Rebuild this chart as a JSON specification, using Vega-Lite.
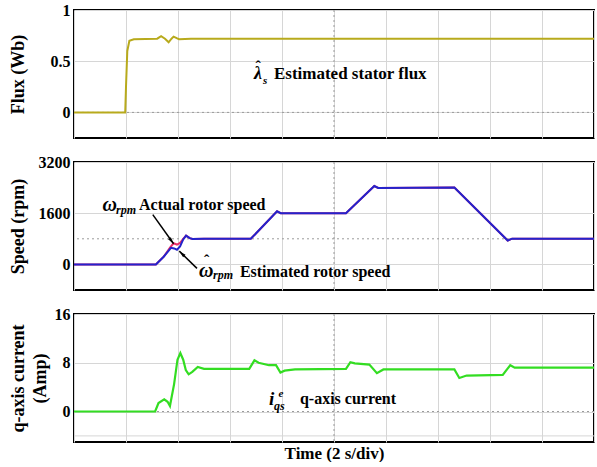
{
  "$schema": "https://vega.github.io/schema/vega-lite/v6.json",
  "background": "white",
  "padding": {"left": 8, "top": 1, "right": 3, "bottom": 0},
  "spacing": 13,
  "config": {
    "font": "Liberation Serif",
    "view": {"stroke": "black", "strokeWidth": 2},
    "axis": {
      "labelFont": "Liberation Serif", "labelFontWeight": "bold", "labelFontSize": 16, "labelColor": "black",
      "titleFont": "Liberation Serif", "titleFontWeight": "bold", "titleFontSize": 18, "titleColor": "black",
      "gridColor": "#d6d6d6", "gridWidth": 1, "ticks": false, "domain": false, "labelOverlap": false, "labelPadding": 4, "grid": true
    },
    "text": {"font": "Liberation Serif", "color": "black", "baseline": "middle", "align": "left"}
  },
  "vconcat": [
    {
      "width": 520, "height": 128,
      "layer": [
        {
          "data": {"values": [{"t": 0, "v": 0.72}, {"t": 20, "v": 0.72}]},
          "mark": {"type": "line", "opacity": 0},
          "encoding": {
            "x": {"field": "t", "type": "quantitative", "scale": {"domain": [0, 20], "nice": false},
                  "axis": {"values": [0,2,4,6,8,10,12,14,16,18,20], "labels": false, "title": null}},
            "y": {"field": "v", "type": "quantitative", "scale": {"domain": [-0.25, 1], "nice": false},
                  "axis": {"values": [0, 0.25, 0.5, 0.75, 1], "format": "~g", "labelExpr": "datum.value == 0 || datum.value == 0.5 || datum.value == 1 ? datum.label : ''",
                           "title": "Flux (Wb)", "titleX": -65, "titleBaseline": "top"}}
          }
        },
        {
          "data": {"values": [{"t": 10}]},
          "mark": {"type": "rule", "color": "#9a9a9a", "strokeDash": [2, 3]},
          "encoding": {"x": {"field": "t", "type": "quantitative"}}
        },
        {
          "data": {"values": [{"v": 0}]},
          "mark": {"type": "rule", "color": "#9a9a9a", "strokeDash": [2, 3]},
          "encoding": {"y": {"field": "v", "type": "quantitative"}}
        },
        {
          "data": {"values": [
            {"t": 0, "v": 0}, {"t": 1.97, "v": 0}, {"t": 2.0, "v": 0.25}, {"t": 2.05, "v": 0.6}, {"t": 2.13, "v": 0.7},
            {"t": 2.3, "v": 0.715}, {"t": 3.2, "v": 0.72}, {"t": 3.35, "v": 0.745}, {"t": 3.5, "v": 0.72}, {"t": 3.64, "v": 0.685},
            {"t": 3.75, "v": 0.72}, {"t": 3.83, "v": 0.74}, {"t": 3.95, "v": 0.725}, {"t": 4.04, "v": 0.715}, {"t": 4.5, "v": 0.72},
            {"t": 20, "v": 0.72}
          ]},
          "mark": {"type": "line", "color": "#b8aa1c", "strokeWidth": 2},
          "encoding": {"x": {"field": "t", "type": "quantitative"}, "y": {"field": "v", "type": "quantitative"}}
        },
        {
          "data": {"values": [{"t": 6.92, "v": 0.373, "s": "λ"}]},
          "mark": {"type": "text", "fontSize": 18, "fontStyle": "italic", "fontWeight": "bold"},
          "encoding": {"x": {"field": "t", "type": "quantitative"}, "y": {"field": "v", "type": "quantitative"}, "text": {"field": "s"}}
        },
        {
          "data": {"values": [{"t": 7.08, "v": 0.39, "s": "ˆ"}]},
          "mark": {"type": "text", "fontSize": 16, "fontWeight": "bold", "align": "center", "baseline": "alphabetic"},
          "encoding": {"x": {"field": "t", "type": "quantitative"}, "y": {"field": "v", "type": "quantitative"}, "text": {"field": "s"}}
        },
        {
          "data": {"values": [{"t": 7.27, "v": 0.31, "s": "s"}]},
          "mark": {"type": "text", "fontSize": 11, "fontStyle": "italic", "fontWeight": "bold"},
          "encoding": {"x": {"field": "t", "type": "quantitative"}, "y": {"field": "v", "type": "quantitative"}, "text": {"field": "s"}}
        },
        {
          "data": {"values": [{"t": 7.69, "v": 0.373, "s": "Estimated stator flux"}]},
          "mark": {"type": "text", "fontSize": 17, "fontWeight": "bold"},
          "encoding": {"x": {"field": "t", "type": "quantitative"}, "y": {"field": "v", "type": "quantitative"}, "text": {"field": "s"}}
        }
      ]
    },
    {
      "width": 520, "height": 128,
      "layer": [
        {
          "data": {"values": [{"t": 0, "v": 800}, {"t": 20, "v": 800}]},
          "mark": {"type": "line", "opacity": 0},
          "encoding": {
            "x": {"field": "t", "type": "quantitative", "scale": {"domain": [0, 20], "nice": false},
                  "axis": {"values": [0,2,4,6,8,10,12,14,16,18,20], "labels": false, "title": null}},
            "y": {"field": "v", "type": "quantitative", "scale": {"domain": [-800, 3200], "nice": false},
                  "axis": {"values": [0, 800, 1600, 2400, 3200], "labelExpr": "datum.value == 0 || datum.value == 1600 || datum.value == 3200 ? datum.value : ''",
                           "title": "Speed (rpm)", "titleX": -65, "titleBaseline": "top"}}
          }
        },
        {
          "data": {"values": [{"t": 10}]},
          "mark": {"type": "rule", "color": "#9a9a9a", "strokeDash": [2, 3]},
          "encoding": {"x": {"field": "t", "type": "quantitative"}}
        },
        {
          "data": {"values": [{"v": 800}]},
          "mark": {"type": "rule", "color": "#9a9a9a", "strokeDash": [2, 3]},
          "encoding": {"y": {"field": "v", "type": "quantitative"}}
        },
        {
          "data": {"values": [
            {"t": 0, "v": 0}, {"t": 3.15, "v": 0}, {"t": 3.45, "v": 240}, {"t": 3.7, "v": 530}, {"t": 3.83, "v": 660},
            {"t": 3.96, "v": 620}, {"t": 4.08, "v": 670}, {"t": 4.2, "v": 800}, {"t": 4.31, "v": 900}, {"t": 4.45, "v": 820},
            {"t": 4.56, "v": 795}, {"t": 5, "v": 800}, {"t": 6.8, "v": 800}, {"t": 7.81, "v": 1660}, {"t": 7.95, "v": 1600},
            {"t": 10.46, "v": 1600}, {"t": 11.55, "v": 2450}, {"t": 11.7, "v": 2390}, {"t": 14.63, "v": 2400},
            {"t": 16.68, "v": 745}, {"t": 16.85, "v": 805}, {"t": 20, "v": 805}
          ]},
          "mark": {"type": "line", "color": "#e8306a", "strokeWidth": 2},
          "encoding": {"x": {"field": "t", "type": "quantitative"}, "y": {"field": "v", "type": "quantitative"}}
        },
        {
          "data": {"values": [
            {"t": 0, "v": 0}, {"t": 3.15, "v": 0}, {"t": 3.45, "v": 240}, {"t": 3.73, "v": 520}, {"t": 3.85, "v": 500},
            {"t": 3.96, "v": 460}, {"t": 4.08, "v": 560}, {"t": 4.2, "v": 780}, {"t": 4.31, "v": 900}, {"t": 4.45, "v": 820},
            {"t": 4.56, "v": 795}, {"t": 5, "v": 800}, {"t": 6.8, "v": 800}, {"t": 7.81, "v": 1660}, {"t": 7.95, "v": 1600},
            {"t": 10.46, "v": 1600}, {"t": 11.55, "v": 2450}, {"t": 11.7, "v": 2390}, {"t": 14.63, "v": 2400},
            {"t": 16.68, "v": 745}, {"t": 16.85, "v": 805}, {"t": 20, "v": 805}
          ]},
          "mark": {"type": "line", "color": "#2323cc", "strokeWidth": 2},
          "encoding": {"x": {"field": "t", "type": "quantitative"}, "y": {"field": "v", "type": "quantitative"}}
        },
        {
          "data": {"values": [{"t": 3.03, "v": 1556, "t2": 3.83, "v2": 644}, {"t": 4.73, "v": -125, "t2": 4.05, "v2": 414}]},
          "mark": {"type": "rule", "color": "black", "strokeWidth": 1.5},
          "encoding": {"x": {"field": "t", "type": "quantitative"}, "y": {"field": "v", "type": "quantitative"},
                       "x2": {"field": "t2"}, "y2": {"field": "v2"}}
        },
        {
          "data": {"values": [{"t": 3.83, "v": 644}]},
          "mark": {"type": "point", "shape": "M0,0L-0.45,1.8L0.45,1.8Z", "filled": true, "color": "black", "opacity": 1, "size": 60, "angle": 144},
          "encoding": {"x": {"field": "t", "type": "quantitative"}, "y": {"field": "v", "type": "quantitative"}}
        },
        {
          "data": {"values": [{"t": 4.05, "v": 414}]},
          "mark": {"type": "point", "shape": "M0,0L-0.45,1.8L0.45,1.8Z", "filled": true, "color": "black", "opacity": 1, "size": 60, "angle": 314},
          "encoding": {"x": {"field": "t", "type": "quantitative"}, "y": {"field": "v", "type": "quantitative"}}
        },
        {
          "data": {"values": [{"t": 1.1, "v": 1868, "s": "ω"}, {"t": 4.81, "v": -200, "s": "ω"}]},
          "mark": {"type": "text", "fontSize": 20, "fontStyle": "italic", "fontWeight": "bold"},
          "encoding": {"x": {"field": "t", "type": "quantitative"}, "y": {"field": "v", "type": "quantitative"}, "text": {"field": "s"}}
        },
        {
          "data": {"values": [{"t": 5.1, "v": -60, "s": "ˆ"}]},
          "mark": {"type": "text", "fontSize": 16, "fontWeight": "bold", "align": "center", "baseline": "alphabetic"},
          "encoding": {"x": {"field": "t", "type": "quantitative"}, "y": {"field": "v", "type": "quantitative"}, "text": {"field": "s"}}
        },
        {
          "data": {"values": [{"t": 1.62, "v": 1712, "s": "rpm"}, {"t": 5.35, "v": -340, "s": "rpm"}]},
          "mark": {"type": "text", "fontSize": 12, "fontStyle": "italic", "fontWeight": "bold"},
          "encoding": {"x": {"field": "t", "type": "quantitative"}, "y": {"field": "v", "type": "quantitative"}, "text": {"field": "s"}}
        },
        {
          "data": {"values": [{"t": 2.5, "v": 1868, "s": "Actual rotor speed"}, {"t": 6.38, "v": -230, "s": "Estimated rotor speed"}]},
          "mark": {"type": "text", "fontSize": 16, "fontWeight": "bold"},
          "encoding": {"x": {"field": "t", "type": "quantitative"}, "y": {"field": "v", "type": "quantitative"}, "text": {"field": "s"}}
        }
      ]
    },
    {
      "width": 520, "height": 128,
      "layer": [
        {
          "data": {"values": [{"t": 0, "v": 7}, {"t": 20, "v": 7}]},
          "mark": {"type": "line", "opacity": 0},
          "encoding": {
            "x": {"field": "t", "type": "quantitative", "scale": {"domain": [0, 20], "nice": false},
                  "axis": {"values": [0,2,4,6,8,10,12,14,16,18,20], "labels": false, "title": "Time (2 s/div)", "titleFontSize": 17, "titlePadding": 3}},
            "y": {"field": "v", "type": "quantitative", "scale": {"domain": [-5, 16], "nice": false},
                  "axis": {"values": [0, 4, 8, 12, 16], "labelExpr": "datum.value == 0 || datum.value == 8 || datum.value == 16 ? datum.value : ''",
                           "title": ["q-axis current", "(Amp)"], "titleX": -65, "titleBaseline": "top", "titleLineHeight": 22}}
          }
        },
        {
          "data": {"values": [{"v": -4}]},
          "mark": {"type": "rule", "color": "#d6d6d6", "strokeWidth": 1},
          "encoding": {"y": {"field": "v", "type": "quantitative"}}
        },
        {
          "data": {"values": [{"t": 10}]},
          "mark": {"type": "rule", "color": "#9a9a9a", "strokeDash": [2, 3]},
          "encoding": {"x": {"field": "t", "type": "quantitative"}}
        },
        {
          "data": {"values": [{"v": 0}]},
          "mark": {"type": "rule", "color": "#9a9a9a", "strokeDash": [2, 3]},
          "encoding": {"y": {"field": "v", "type": "quantitative"}}
        },
        {
          "data": {"values": [
            {"t": 0, "v": 0}, {"t": 3.12, "v": 0}, {"t": 3.25, "v": 1.4}, {"t": 3.47, "v": 2.0}, {"t": 3.6, "v": 1.6},
            {"t": 3.69, "v": 0.9}, {"t": 3.85, "v": 4.5}, {"t": 3.98, "v": 8.5}, {"t": 4.09, "v": 9.6}, {"t": 4.2, "v": 8.5},
            {"t": 4.3, "v": 6.8}, {"t": 4.41, "v": 6.1}, {"t": 4.55, "v": 6.5}, {"t": 4.76, "v": 7.3}, {"t": 5, "v": 7.0},
            {"t": 6.74, "v": 7.0}, {"t": 6.94, "v": 8.4}, {"t": 7.1, "v": 8.0}, {"t": 7.3, "v": 7.8}, {"t": 7.5, "v": 7.6},
            {"t": 7.77, "v": 7.6}, {"t": 7.94, "v": 6.4}, {"t": 8.1, "v": 6.7}, {"t": 8.5, "v": 6.9}, {"t": 10.46, "v": 7.0},
            {"t": 10.63, "v": 8.1}, {"t": 10.8, "v": 7.9}, {"t": 11.36, "v": 7.7}, {"t": 11.65, "v": 6.3}, {"t": 11.9, "v": 6.9},
            {"t": 14.63, "v": 6.9}, {"t": 14.82, "v": 5.5}, {"t": 15.1, "v": 5.9}, {"t": 16.49, "v": 6.0}, {"t": 16.78, "v": 7.6},
            {"t": 16.95, "v": 7.2}, {"t": 20, "v": 7.2}
          ]},
          "mark": {"type": "line", "color": "#33dd22", "strokeWidth": 2.2},
          "encoding": {"x": {"field": "t", "type": "quantitative"}, "y": {"field": "v", "type": "quantitative"}}
        },
        {
          "data": {"values": [{"t": 7.5, "v": 1.98, "s": "i"}]},
          "mark": {"type": "text", "fontSize": 19, "fontStyle": "italic", "fontWeight": "bold"},
          "encoding": {"x": {"field": "t", "type": "quantitative"}, "y": {"field": "v", "type": "quantitative"}, "text": {"field": "s"}}
        },
        {
          "data": {"values": [{"t": 7.87, "v": 2.8, "s": "e"}]},
          "mark": {"type": "text", "fontSize": 11, "fontStyle": "italic", "fontWeight": "bold"},
          "encoding": {"x": {"field": "t", "type": "quantitative"}, "y": {"field": "v", "type": "quantitative"}, "text": {"field": "s"}}
        },
        {
          "data": {"values": [{"t": 7.69, "v": 0.87, "s": "qs"}]},
          "mark": {"type": "text", "fontSize": 12, "fontStyle": "italic", "fontWeight": "bold"},
          "encoding": {"x": {"field": "t", "type": "quantitative"}, "y": {"field": "v", "type": "quantitative"}, "text": {"field": "s"}}
        },
        {
          "data": {"values": [{"t": 8.69, "v": 1.98, "s": "q-axis current"}]},
          "mark": {"type": "text", "fontSize": 16, "fontWeight": "bold"},
          "encoding": {"x": {"field": "t", "type": "quantitative"}, "y": {"field": "v", "type": "quantitative"}, "text": {"field": "s"}}
        }
      ]
    }
  ]
}
